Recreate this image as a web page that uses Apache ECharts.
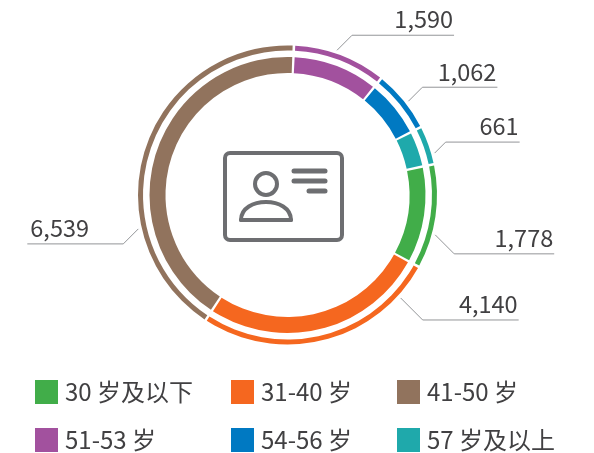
<!DOCTYPE html>
<html>
<head>
<meta charset="utf-8">
<style>
	html, body { margin: 0; padding: 0; background: #fff; }
	#chart { width: 594px; height: 453px; }
</style>
<script src="https://cdn.jsdelivr.net/npm/echarts@6/dist/echarts.min.js"></script>
</head>
<body>
<div id="chart"></div>
<script>
// 年龄段人数
const ageGroups = ['30 岁及以下', '31-40 岁', '41-50 岁', '51-53 岁', '54-56 岁', '57 岁及以上'];
const ageCounts = [1778, 4140, 6539, 1590, 1062, 661];
const ageColors = ['#41ad49', '#f5671f', '#91735d', '#a2519e', '#0079c2', '#1fa9ab'];

// 引导线：起点角度（从正上方顺时针）、斜线高度、水平段长度、文字离线的距离
const leaderAngle = [105.1, 132.3, 257.2, 18.9, 52.2, 74.1];
const leaderRise = [19, 22, 15, 15, 14, 11];
const leaderRun = [100, 96, 96, 102, 75, 74];
const leaderLift = [4, 4, 4, 4, 3, 4];

const textColor = '#414042';
const iconColor = '#6d6e71';
const fontFamily = '"Noto Sans CJK SC", "Noto Sans", sans-serif';
const center = [287.5, 195];
const leaderRadius = 153;

const pieData = ageGroups.map((name, i) => ({
	name: name,
	value: ageCounts[i],
	itemStyle: { color: ageColors[i] }
}));

function ring(radius) {
	return {
		type: 'pie',
		center: center,
		radius: radius,
		startAngle: 11.9,
		padAngle: 1,
		silent: true,
		animation: false,
		avoidLabelOverlap: false,
		label: { show: false },
		labelLine: { show: false },
		data: pieData
	};
}

// 图例按列摆放
function legendColumn(left, names) {
	return {
		left: left,
		top: 380,
		padding: 0,
		orient: 'vertical',
		itemWidth: 23,
		itemHeight: 24,
		itemGap: 24,
		itemStyle: { borderWidth: 0 },
		textStyle: { fontFamily: fontFamily, fontSize: 24, color: textColor, padding: [0, 0, 0, 2] },
		icon: 'rect',
		selectedMode: false,
		data: names
	};
}

// 外环带标签和引导线
function outerRing() {
	return Object.assign(ring([144.5, 149.5]), {
		label: {
			show: true,
			formatter: (p) => p.value.toLocaleString('en-US'),
			fontFamily: fontFamily,
			fontSize: 23.5,
			color: textColor
		},
		labelLine: {
			show: true,
			length: 10,
			length2: 10,
			lineStyle: { color: '#939598', width: 1 }
		},
		labelLayout: function (params) {
			const i = params.dataIndex;
			const rad = leaderAngle[i] * Math.PI / 180;
			const start = [center[0] + leaderRadius * Math.sin(rad), center[1] - leaderRadius * Math.cos(rad)];
			const sx = start[0] > center[0] ? 1 : -1;
			const sy = start[1] > center[1] ? 1 : -1;
			const elbow = [start[0] + sx * leaderRise[i], start[1] + sy * leaderRise[i]];
			const end = [elbow[0] + sx * leaderRun[i], elbow[1]];
			return {
				x: end[0] - (sx > 0 ? 1 : -3),
				y: elbow[1] - leaderLift[i],
				align: sx > 0 ? 'right' : 'left',
				verticalAlign: 'bottom',
				labelLinePoints: [start, elbow, end]
			};
		}
	});
}

const chart = echarts.init(document.getElementById('chart'));

chart.setOption({
	backgroundColor: '#fff',
	legend: [
		legendColumn(35, [ageGroups[0], ageGroups[3]]),
		legendColumn(231, [ageGroups[1], ageGroups[4]]),
		legendColumn(397, [ageGroups[2], ageGroups[5]])
	],
	series: [
		ring([122, 138]),
		outerRing()
	],
	// 中间的证件图标
	graphic: [{
		type: 'group',
		silent: true,
		children: [
			{ type: 'rect', shape: { x: 225, y: 153, width: 117, height: 87, r: 5 }, style: { fill: 'none', stroke: iconColor, lineWidth: 4 } },
			{ type: 'circle', shape: { cx: 266, cy: 184, r: 11 }, style: { fill: 'none', stroke: iconColor, lineWidth: 4 } },
			{ type: 'bezierCurve', shape: { x1: 241, y1: 220, cpx1: 241, cpy1: 196, cpx2: 291, cpy2: 196, x2: 291, y2: 220 }, style: { fill: 'none', stroke: iconColor, lineWidth: 4, lineCap: 'round' } },
			{ type: 'line', shape: { x1: 241, y1: 220, x2: 291, y2: 220 }, style: { stroke: iconColor, lineWidth: 4, lineCap: 'round' } },
			{ type: 'line', shape: { x1: 294, y1: 171, x2: 325, y2: 171 }, style: { stroke: iconColor, lineWidth: 5, lineCap: 'round' } },
			{ type: 'line', shape: { x1: 294, y1: 181, x2: 325, y2: 181 }, style: { stroke: iconColor, lineWidth: 5, lineCap: 'round' } },
			{ type: 'line', shape: { x1: 309, y1: 191, x2: 325, y2: 191 }, style: { stroke: iconColor, lineWidth: 5, lineCap: 'round' } }
		]
	}]
});
</script>
</body>
</html>
